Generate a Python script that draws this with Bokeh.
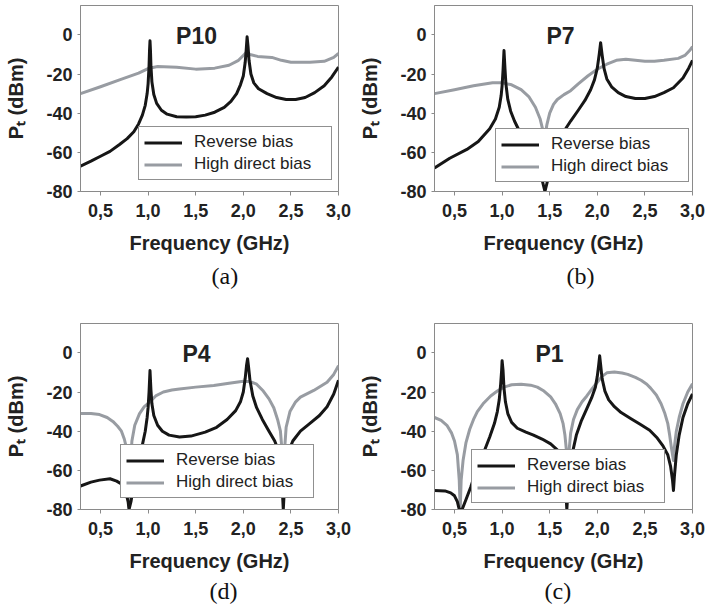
from bokeh.plotting import figure
from bokeh.models import Range1d, FixedTicker, Label, Legend, LegendItem, Title
from bokeh.layouts import row, column
from bokeh.embed import file_html
from bokeh.resources import INLINE

# ---------------- data ----------------
x_ticks = [0.5, 1.0, 1.5, 2.0, 2.5, 3.0]
x_tick_labels = ["0,5", "1,0", "1,5", "2,0", "2,5", "3,0"]
y_ticks = [-80, -60, -40, -20, 0]
y_tick_labels = ["-80", "-60", "-40", "-20", "0"]

legend_labels = ["Reverse bias", "High direct bias"]
panel_names = ["P10", "P7", "P4", "P1"]
panel_captions = ["(a)", "(b)", "(d)", "(c)"]
x_label = "Frequency (GHz)"
y_label = "P\u209c (dBm)"

# (a) P10
a_rev_f = [0.29, 0.4, 0.5, 0.6, 0.7, 0.78, 0.85, 0.9, 0.94, 0.97, 0.99, 1.0, 1.01, 1.015, 1.02, 1.025, 1.03, 1.04, 1.06, 1.09, 1.14, 1.2, 1.3, 1.4, 1.5, 1.6, 1.7, 1.8, 1.87, 1.93, 1.97, 2.0, 2.02, 2.03, 2.04, 2.05, 2.06, 2.08, 2.11, 2.16, 2.25, 2.35, 2.45, 2.55, 2.65, 2.75, 2.85, 2.93, 3.0]
a_rev_v = [-67, -64.5, -62, -59.5, -56, -53, -49.5, -45.5, -41, -36, -30, -25, -16, -8, -3, -8, -16, -24, -30.5, -35, -38.5, -40.5, -41.8, -42, -41.8, -41, -39.5, -37, -34, -30, -25.5, -21, -14, -8, -1, -6, -13, -20, -24.5, -27.5, -30, -32, -33, -33, -32, -29.5, -26, -21.5, -16.5]
a_dir_f = [0.29, 0.5, 0.7, 0.9, 1.0, 1.1, 1.3, 1.5, 1.7, 1.85, 1.95, 2.0, 2.03, 2.07, 2.15, 2.3, 2.4, 2.5, 2.7, 2.85, 2.95, 3.0]
a_dir_v = [-30, -26.5, -23, -19.5, -17.2, -16.2, -16.5, -17.5, -17, -15.5, -13, -10.5, -9, -10, -11, -11.5, -13, -14, -14, -13.5, -11.5, -9.5]

# (b) P7
b_rev_f = [0.29, 0.45, 0.63, 0.75, 0.87, 0.93, 0.97, 0.99, 1.0, 1.01, 1.02, 1.03, 1.04, 1.06, 1.09, 1.13, 1.19, 1.27, 1.35, 1.41, 1.45, 1.49, 1.55, 1.64, 1.72, 1.8, 1.87, 1.93, 1.97, 2.0, 2.02, 2.035, 2.05, 2.07, 2.1, 2.15, 2.22, 2.3, 2.4, 2.5, 2.6, 2.7, 2.8, 2.9, 2.96, 3.0]
b_rev_v = [-68, -63, -58.5, -54.5, -48, -43, -37, -31, -26, -18, -8, -17, -25, -33, -39, -44, -50, -56, -63, -72, -80, -72, -62, -50, -44, -38.5, -33.5, -28, -23, -17, -10, -4, -10, -17, -22.5, -26.5, -29.5, -31.5, -32.5, -32.5, -31.5, -29.5, -27, -22, -17, -13]
b_dir_f = [0.29, 0.5, 0.7, 0.9, 1.0, 1.1, 1.2, 1.28, 1.35, 1.4, 1.43, 1.45, 1.47, 1.5, 1.54, 1.58, 1.65, 1.72, 1.8, 1.9, 2.0, 2.1, 2.2, 2.3, 2.4, 2.5, 2.6, 2.7, 2.85, 2.92, 2.97, 3.0]
b_dir_v = [-30, -28, -26, -24.5, -24.5, -25.5, -28, -31.5, -37, -43, -49, -52, -46, -40, -35.5, -33, -30.5, -28.5, -25, -21, -17.5, -15, -13, -12.5, -13, -13.5, -13.5, -13, -12, -10.5, -8, -6]

# (d) P4
d_rev_f = [0.29, 0.4, 0.49, 0.6, 0.67, 0.72, 0.76, 0.79, 0.8, 0.82, 0.86, 0.9, 0.94, 0.97, 0.99, 1.0, 1.01, 1.02, 1.03, 1.04, 1.06, 1.1, 1.15, 1.22, 1.33, 1.45, 1.6, 1.72, 1.83, 1.92, 1.97, 2.0, 2.02, 2.035, 2.045, 2.055, 2.07, 2.1, 2.14, 2.2, 2.27, 2.33, 2.37, 2.4, 2.42, 2.44, 2.47, 2.52, 2.6, 2.7, 2.8, 2.88, 2.95, 3.0]
d_rev_v = [-68, -66, -65, -64.3, -65.5, -67, -70, -76, -80, -76, -64, -55, -47, -40, -33, -28, -20, -9, -19, -26, -32, -37, -40, -42, -43, -42.5, -40.5, -38, -34, -29.5, -25, -20, -13, -6, -3, -7, -14, -22, -28, -34, -40, -45, -50, -60, -80, -62, -51, -45, -40, -36, -32, -27.5, -21, -14]
d_dir_f = [0.29, 0.4, 0.49, 0.57, 0.63, 0.68, 0.72, 0.75, 0.77, 0.79, 0.8, 0.81, 0.83, 0.86, 0.91, 0.96, 1.02, 1.08, 1.16, 1.25, 1.33, 1.5, 1.69, 1.85, 2.0, 2.08, 2.14, 2.21, 2.27, 2.32, 2.36, 2.39, 2.41, 2.42, 2.43, 2.45, 2.49, 2.55, 2.6, 2.74, 2.88, 2.95, 3.0]
d_dir_v = [-31, -31, -31.5, -33, -35, -37.5, -40, -44, -48, -60, -79, -60, -45, -37, -31, -27.5, -25, -22, -20, -19, -18.4, -17.5, -16.7, -15.5, -14.5, -14.8, -16, -19.5, -23.5, -28, -34, -40, -52, -62, -52, -38, -30, -25, -22.6, -19.2, -15, -11, -6.5]

# (c) P1
c_rev_f = [0.29, 0.4, 0.46, 0.5, 0.53, 0.55, 0.58, 0.62, 0.67, 0.74, 0.81, 0.87, 0.92, 0.95, 0.97, 0.985, 0.995, 1.0, 1.01, 1.02, 1.035, 1.06, 1.1, 1.16, 1.25, 1.33, 1.42, 1.51, 1.58, 1.63, 1.66, 1.68, 1.7, 1.73, 1.78, 1.83, 1.89, 1.94, 1.98, 2.0, 2.015, 2.025, 2.035, 2.05, 2.08, 2.12, 2.18, 2.25, 2.35, 2.45, 2.55, 2.63, 2.69, 2.74, 2.77, 2.79, 2.8, 2.81, 2.83, 2.86, 2.9, 2.95, 3.0]
c_rev_v = [-70.3, -70.5, -71.5, -73, -76, -80, -80, -75, -68.6, -58.4, -50.5, -43, -36, -30, -24, -16, -9, -4, -9, -18, -25, -31, -35.5, -38.5, -40.5, -42, -44, -46.5, -49.5, -54, -62, -80, -64, -53, -42, -35, -28.5, -23, -17.5, -12, -6, -1.5, -6, -13, -19.5, -24, -27.5, -30.5, -33.5, -36.5, -39.5, -43.5, -47.5, -52, -58, -65, -70.3, -63, -52, -42, -33, -26, -21]
c_dir_f = [0.29, 0.36, 0.42, 0.47, 0.5, 0.53, 0.55, 0.56, 0.57, 0.59, 0.62, 0.66, 0.7, 0.74, 0.8, 0.88, 0.95, 1.02, 1.1, 1.2, 1.3, 1.37, 1.44, 1.51, 1.56, 1.61, 1.64, 1.66, 1.68, 1.69, 1.7, 1.72, 1.75, 1.79, 1.84, 1.89, 1.95, 2.0, 2.05, 2.1, 2.18, 2.26, 2.32, 2.4, 2.46, 2.52, 2.56, 2.62, 2.67, 2.71, 2.74, 2.76, 2.78, 2.8, 2.81, 2.83, 2.86, 2.9, 2.95, 3.0]
c_dir_v = [-33, -34.5, -37, -41, -45, -52, -65, -80, -65, -55, -46, -39, -34, -30, -26, -22, -19.5, -17.5, -16.3, -16, -16.5, -17.5, -19.5, -22.5, -26, -31, -36, -42, -52, -62, -52, -41, -34, -29, -25, -22, -18, -15, -12, -10.2, -9.8, -10.3, -11, -12.5, -14, -16, -18, -21.5, -26, -31, -36, -42, -49, -55, -48, -40, -33, -26, -20, -15.8]

BLACK = "#161616"
GRAY = "#989ca2"
AXIS = "#8a8a8a"
TXT = "#222222"
SANS = "Liberation Sans"
SERIF = "Liberation Serif"


def make_panel(idx, f_rev, v_rev, f_dir, v_dir, width, height, bl, bt, bb,
               title_dx, cap_left, cap_standoff, leg_loc):
    p = figure(width=width, height=height,
               x_range=Range1d(0.29, 3.0), y_range=Range1d(-80, 15),
               output_backend="svg", toolbar_location=None,
               min_border_left=bl, min_border_right=15,
               min_border_top=bt, min_border_bottom=bb)
    p.xgrid.visible = False
    p.ygrid.visible = False
    p.outline_line_color = AXIS
    p.outline_line_width = 1
    p.background_fill_color = "white"
    p.border_fill_color = "white"

    r_dir = p.line(f_dir, v_dir, line_color=GRAY, line_width=3, line_join="round")
    r_rev = p.line(f_rev, v_rev, line_color=BLACK, line_width=3, line_join="round")

    # x axis
    xa = p.xaxis[0]
    xa.ticker = FixedTicker(ticks=x_ticks)
    xa.major_label_overrides = {t: l for t, l in zip(x_ticks, x_tick_labels)}
    xa.axis_label = x_label
    xa.axis_label_text_font = SANS
    xa.axis_label_text_font_style = "bold"
    xa.axis_label_text_font_size = "20px"
    xa.axis_label_text_color = TXT
    xa.axis_label_standoff = 12
    xa.major_label_text_font = SANS
    xa.major_label_text_font_style = "bold"
    xa.major_label_text_font_size = "18px"
    xa.major_label_text_color = TXT
    xa.major_label_standoff = 8
    xa.major_tick_out = 4
    xa.major_tick_in = 0
    xa.minor_tick_line_color = None
    xa.axis_line_color = AXIS
    xa.major_tick_line_color = AXIS

    # y axis
    ya = p.yaxis[0]
    ya.ticker = FixedTicker(ticks=y_ticks)
    ya.major_label_overrides = {t: l for t, l in zip(y_ticks, y_tick_labels)}
    ya.axis_label = y_label
    ya.axis_label_text_font = SANS
    ya.axis_label_text_font_style = "bold"
    ya.axis_label_text_font_size = "20px"
    ya.axis_label_text_color = TXT
    ya.axis_label_standoff = 16
    ya.major_label_text_font = SANS
    ya.major_label_text_font_style = "bold"
    ya.major_label_text_font_size = "18px"
    ya.major_label_text_color = TXT
    ya.major_label_standoff = 5
    ya.major_tick_out = 3
    ya.major_tick_in = 0
    ya.minor_tick_line_color = None
    ya.axis_line_color = AXIS
    ya.major_tick_line_color = AXIS

    # panel name inside the frame
    p.add_layout(Label(x=title_dx, y=156, x_units="screen", y_units="screen",
                       text=panel_names[idx], text_font=SANS, text_font_style="bold",
                       text_font_size="23px", text_align="center",
                       text_baseline="middle", text_color=TXT))
    # caption below the axis
    cap = Title(text=panel_captions[idx], align="left", offset=cap_left,
                text_font=SERIF, text_font_style="normal", text_font_size="24px",
                text_color="#111111", standoff=cap_standoff)
    p.add_layout(cap, "below")

    legend = Legend(items=[LegendItem(label=legend_labels[0], renderers=[r_rev]),
                           LegendItem(label=legend_labels[1], renderers=[r_dir])],
                    location=leg_loc)
    legend.label_text_font = SANS
    legend.label_text_font_size = "17px"
    legend.label_text_color = TXT
    legend.glyph_width = 38
    legend.glyph_height = 19
    legend.label_height = 19
    legend.label_width = 132
    legend.label_standoff = 12
    legend.spacing = 2
    legend.padding = 5
    legend.margin = 0
    legend.border_line_color = TXT
    legend.border_line_width = 1
    legend.background_fill_color = "white"
    legend.background_fill_alpha = 1.0
    p.add_layout(legend)
    return p


pa = make_panel(0, a_rev_f, a_rev_v, a_dir_f, a_dir_v, 353, 306, 80, 5, 115,
                116, 131, 8, (58, 11))
pb = make_panel(1, b_rev_f, b_rev_v, b_dir_f, b_dir_v, 354, 306, 81, 5, 115,
                126, 132, 8, (61, 9))
pd = make_panel(2, d_rev_f, d_rev_v, d_dir_f, d_dir_v, 353, 307, 80, 17, 104,
                116, 129, 2, (40, 11))
pc = make_panel(3, c_rev_f, c_rev_v, c_dir_f, c_dir_v, 354, 307, 81, 17, 104,
                115, 110, 2, (37, 6))

layout = column(row(pa, pb), row(pd, pc))
open("out.html", "w").write(file_html(layout, INLINE))
